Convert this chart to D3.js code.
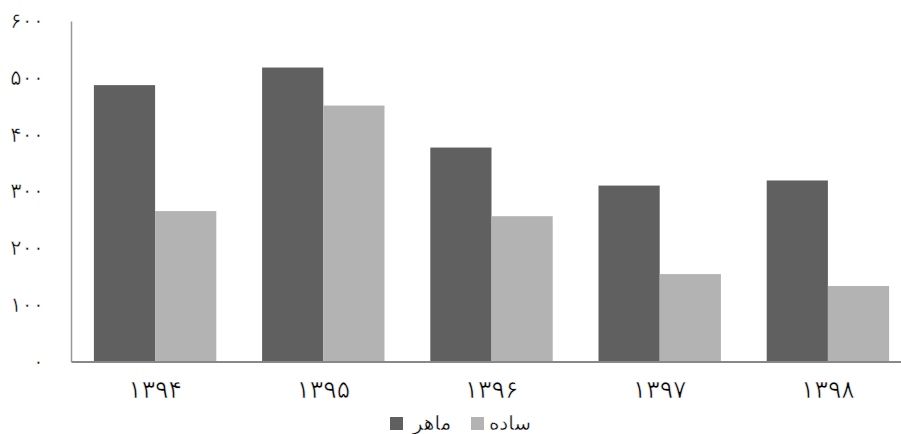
<!DOCTYPE html>
<html><head><meta charset="utf-8">
<script src="https://cdn.jsdelivr.net/npm/d3@7"></script>
<style>body{margin:0;background:#fff}svg{display:block}</style>
</head><body>
<svg id="c" width="901" height="434"></svg>
<script>
const categories = ["۱۳۹۴","۱۳۹۵","۱۳۹۶","۱۳۹۷","۱۳۹۸"];
const seriesNames = ["ماهر","ساده"];
const maherValues = [487, 518, 377, 310, 319];
const sadehValues = [265, 451, 256, 154, 133];
const yTicks = [0,100,200,300,400,500,600];
const yTickLabels = ["۰","۱۰۰","۲۰۰","۳۰۰","۴۰۰","۵۰۰","۶۰۰"];
const colors = ["#606060","#b3b3b3"];

const svg = d3.select("#c");
const font = "'DejaVu Sans',sans-serif";
const mLeft = 71, mRight = 912, mTop = 21, mBottom = 361.5;

const x0 = d3.scaleBand().domain(categories).range([mLeft, mRight]).paddingInner(0).paddingOuter(0);
const y = d3.scaleLinear().domain([0,600]).range([mBottom, mTop]);
const barW = 61.2;
const x1 = d3.scaleBand().domain(seriesNames).range([0, barW*2]);

const data = categories.map((c,i)=>({cat:c, vals:[maherValues[i], sadehValues[i]]}));

const g = svg.append("g");
data.forEach(d=>{
  const cx = x0(d.cat) + x0.bandwidth()/2;
  d.vals.forEach((v,j)=>{
    g.append("rect")
      .attr("x", cx - barW + x1(seriesNames[j]))
      .attr("y", y(v))
      .attr("width", x1.bandwidth())
      .attr("height", y(0)-y(v))
      .attr("fill", colors[j]);
  });
});

function thin(sel, w){
  sel.attr("stroke","#fff").attr("stroke-width",w).attr("paint-order","normal");
}

// y axis
const yAxis = d3.axisLeft(y).tickValues(yTicks).tickFormat((d,i)=>yTickLabels[i]).tickSize(0).tickPadding(27);
const ya = svg.append("g").attr("transform",`translate(${mLeft},0)`).call(yAxis);
ya.select(".domain").attr("stroke","#999").attr("stroke-width",1.5);
ya.selectAll("text").attr("font-family",font).attr("font-size",21)
  .attr("letter-spacing","2px").attr("fill","#000").call(thin, 0.5);

// x axis
const xAxis = d3.axisBottom(x0).tickSize(0).tickPadding(19);
const xa = svg.append("g").attr("transform",`translate(0,${mBottom})`).call(xAxis);
xa.select(".domain").attr("stroke","#888").attr("stroke-width",2);
xa.selectAll("text").attr("font-family",font).attr("font-size",25)
  .attr("letter-spacing","3px").attr("fill","#000").call(thin, 0.6);

// legend
const leg = svg.append("g");
const legItems = [
  {name: seriesNames[0], color: colors[0], sx: 390, tx: 432},
  {name: seriesNames[1], color: colors[1], sx: 471, tx: 510}
];
legItems.forEach(it=>{
  leg.append("rect").attr("x", it.sx).attr("y", 417).attr("width", 13).attr("height", 13).attr("fill", it.color);
  leg.append("text").attr("x", it.tx).attr("y", 423).attr("text-anchor","middle")
    .attr("dominant-baseline","central").attr("font-family",font).attr("font-size",20).attr("fill","#000")
    .call(thin, 0.4).text(it.name);
});
</script>
</body></html>
